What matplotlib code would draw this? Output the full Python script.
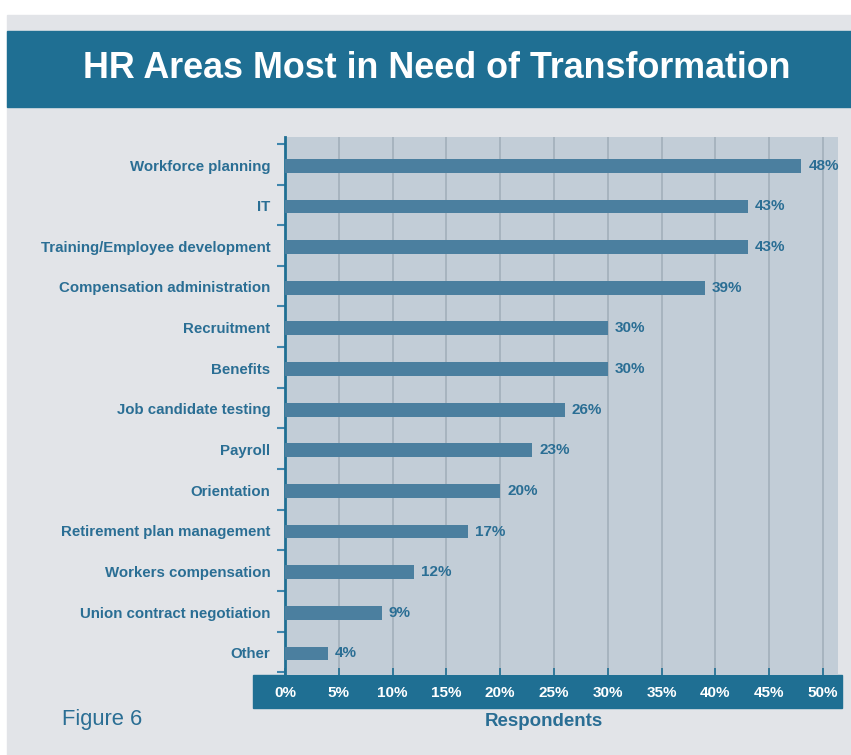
import matplotlib
matplotlib.use("Agg")
import matplotlib.pyplot as plt
from matplotlib.patches import Rectangle
import numpy as np

# data
categories = ["Workforce planning", "IT", "Training/Employee development",
              "Compensation administration", "Recruitment", "Benefits",
              "Job candidate testing", "Payroll", "Orientation",
              "Retirement plan management", "Workers compensation",
              "Union contract negotiation", "Other"]
values = [48, 43, 43, 39, 30, 30, 26, 23, 20, 17, 12, 9, 4]
xticks = [0, 5, 10, 15, 20, 25, 30, 35, 40, 45, 50]

dark = "#1f6f93"
bar_col = "#4b7f9f"
txt_col = "#2a6e94"
W, H = 851, 755

fig = plt.figure(figsize=(W / 100, H / 100), dpi=100, facecolor="white")

def box(x0, y0, x1, y1, color, z=0):
    # rectangle in pixel coords (y from top)
    fig.patches.append(Rectangle((x0 / W, 1 - y1 / H), (x1 - x0) / W, (y1 - y0) / H,
                                 transform=fig.transFigure, color=color, zorder=z))

box(7, 15, W, H, "#e2e4e8")
box(7, 31, W, 107, dark, 1)
box(253, 675, 842, 708, dark, 1)

fig.text(437 / W, 1 - 69 / H, "HR Areas Most in Need of Transformation",
         ha="center", va="center", color="white", fontsize=25.8, fontweight="bold",
         family="Liberation Sans")

ax = fig.add_axes([285 / W, 1 - 675 / H, (838 - 285) / W, (675 - 137) / H], zorder=2)
ax.set_facecolor("#c2cdd7")
y = np.arange(len(categories))
ax.barh(y + 0.04, values, height=0.34, color=bar_col, zorder=3)
for yi, v in zip(y, values):
    ax.text(v + 0.65, yi + 0.04, f"{v}%", va="center", ha="left", color=txt_col,
            fontsize=11, fontweight="bold", family="Liberation Sans")

ax.set_xlim(0, 51.4)
ax.set_ylim(12.57, -0.67)
ax.set_xticks(xticks)
ax.set_xticklabels([f"{t}%" for t in xticks], color="white", fontsize=11,
                   fontweight="bold", family="Liberation Sans")
ax.tick_params(axis="x", direction="in", length=5, width=1.2, color=dark, pad=8)
ax.grid(axis="x", color="#a2b0bb", linewidth=1.2, zorder=1)

ax.set_yticks(y + 0.02)
ax.set_yticklabels(categories, color=txt_col, fontsize=10.8, fontweight="bold",
                   family="Liberation Sans")
ax.tick_params(axis="y", length=0, pad=10.5)
ax.set_yticks(np.arange(-0.5, 13, 1), minor=True)
ax.tick_params(axis="y", which="minor", direction="out", length=6, width=1.5, color="#3f86ad")

for s in ["top", "right", "bottom"]:
    ax.spines[s].set_visible(False)
ax.spines["left"].set_color(dark)
ax.spines["left"].set_linewidth(2)

fig.text(62 / W, 1 - 720 / H, "Figure 6", ha="left", va="center", color=txt_col,
         fontsize=15.8, family="Liberation Sans")
fig.text(544 / W, 1 - 721 / H, "Respondents", ha="center", va="center", color=txt_col,
         fontsize=13.5, fontweight="bold", family="Liberation Sans")

fig.savefig("out.png", dpi=100, facecolor=fig.get_facecolor())
